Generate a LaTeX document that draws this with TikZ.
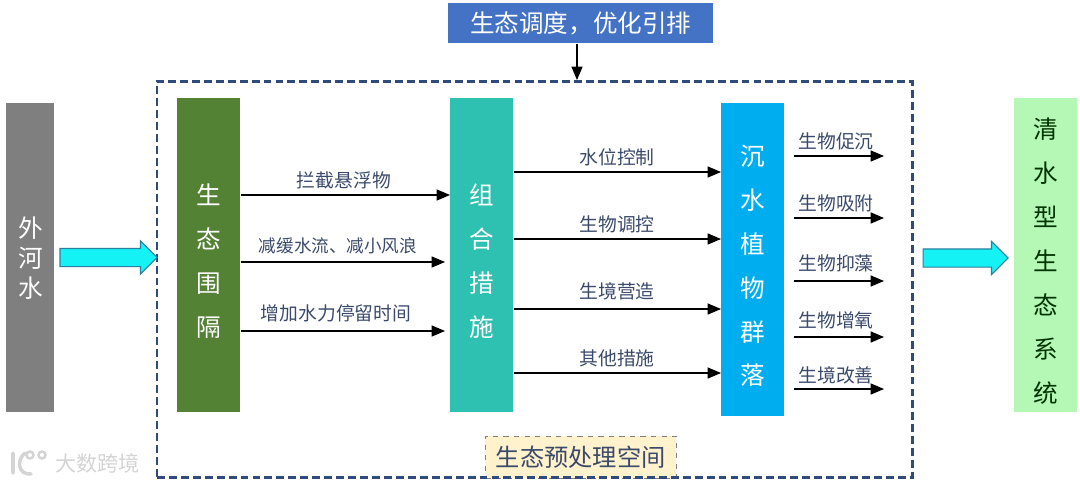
\documentclass[tikz,border=0pt]{standalone}
\usepackage{fontspec}
\setmainfont{Noto Sans CJK SC}
\usetikzlibrary{arrows}
\usetikzlibrary{shapes.arrows}
\definecolor{framecol}{HTML}{2F4B7C}
\definecolor{labelcol}{HTML}{3B4A6B}
\definecolor{schedcol}{HTML}{4472C4}
\definecolor{greycol}{HTML}{7F7F7F}
\definecolor{weircol}{HTML}{548235}
\definecolor{combcol}{HTML}{2EC0B0}
\definecolor{plantcol}{HTML}{00ADEF}
\definecolor{cleancol}{HTML}{B5F7B5}
\definecolor{tagcol}{HTML}{FFF2CC}
\definecolor{markcol}{HTML}{D4D4D4}
\definecolor{edgecol}{HTML}{2A7F9E}
\definecolor{arrowcol}{HTML}{14F2F6}
\newcommand{\topgap}{\rule{0pt}{18.5pt}}
\begin{document}
\begin{tikzpicture}[line cap=butt,line join=miter,>=triangle 45,x=1cm,y=1cm,
    column/.style={anchor=north west, inner sep=0pt, align=center, minimum width=1.26cm, text=white, font=\fontsize{14}{25}\selectfont},
    lbl/.style={inner sep=0pt, text=labelcol, font=\fontsize{10.7}{12}\selectfont},
    flow/.style={->, line width=0.75pt},
    bigarrow/.style={single arrow, draw=edgecol, fill=arrowcol, line width=0.6pt, inner sep=0.17cm, minimum width=0.66cm, single arrow head extend=0.15cm, single arrow head indent=0pt}]
    \useasboundingbox (0,0) rectangle (21.6,9.66);

    % watermark
    \draw [markcol, line width=1.4pt] (0.6,0.56) circle (0.07);
    \draw [markcol, line width=1.4pt] (0.84,0.56) circle (0.07);
    \draw [markcol, line width=2pt, line cap=round] (0.26,0.6) -- (0.26,0.2) (0.5,0.6) .. controls (0.32,0.46) and (0.36,0.16) .. (0.62,0.18);
    \node[inner sep=0pt, text=markcol, font=\fontsize{12}{13}\selectfont] (mark) at (1.95,0.4) {大数跨境};

    % schedule box
    \node[anchor=north west, inner sep=0pt, fill=schedcol, text=white, minimum width=5.3cm, minimum height=0.8cm, font=\fontsize{14}{16}\selectfont] (sched) at (8.96,9.6) {生态调度，优化引排};

    % columns
    \node[column, fill=greycol, minimum width=0.96cm, minimum height=6.18cm, font=\fontsize{14}{17}\selectfont] (river) at (0.12,7.6) {外\\河\\水};
    \node[column, fill=weircol, minimum height=6.28cm] (weir) at (3.54,7.7) {\topgap 生\\态\\围\\隔};
    \node[column, fill=combcol, minimum height=6.28cm] (comb) at (9,7.7) {\topgap 组\\合\\措\\施};
    \node[column, fill=plantcol, minimum height=6.26cm] (plant) at (14.42,7.6) {\topgap 沉\\水\\植\\物\\群\\落};
    \node[column, fill=cleancol, minimum height=6.28cm, text=black!80!green] (clean) at (20.28,7.7) {\topgap 清\\水\\型\\生\\态\\系\\统};

    % tag and frame
    \node[anchor=north west, inner sep=0pt, fill=tagcol, draw=gray, dashed, minimum width=3.82cm, minimum height=0.84cm, text=labelcol, font=\fontsize{13.8}{15}\selectfont] (tag) at (9.7,0.94) {生态预处理空间};
    \node[anchor=north west, inner sep=0pt, draw=framecol, line width=1.6pt, dash pattern=on 4.5pt off 2.3pt, minimum width=15.11cm, minimum height=7.92cm] (frame) at (3.11,8.06) {};

    % big arrows
    \node[bigarrow, minimum height=1.94cm] (inflow) at (2.08,4.51) {};
    \node[bigarrow, minimum height=1.7cm] (outflow) at (19.22,4.5) {};

    \draw [flow] (11.54,0 |- sched.south) -- (11.54,0 |- frame.north);

    % weir to combination
    \coordinate (endB) at (8.9,4.42);
    \coordinate (endC) at (8.9,3.04);
    \node[lbl] (interc) at (6.88,6.06) {拦截悬浮物};
    \node[lbl, font=\fontsize{10}{12}\selectfont] (slow) at (6.76,4.74) {减缓水流、减小风浪};
    \node[lbl] (stay) at (6.72,3.4) {增加水力停留时间};
    \draw [flow] (weir.east |- 0,5.76) -- (comb.west |- 0,5.76);
    \draw [flow] (weir.east |- endB) -- (endB);
    \draw [flow] (weir.east |- endC) -- (endC);

    % combination to plants
    \node[lbl] (level) at (12.34,6.52) {水位控制};
    \node[lbl] (regul) at (12.34,5.18) {生物调控};
    \node[lbl] (habit) at (12.34,3.84) {生境营造};
    \node[lbl] (other) at (12.34,2.5) {其他措施};
    \draw [flow] (comb.east |- 0,6.22) -- (plant.west |- 0,6.22);
    \draw [flow] (comb.east |- 0,4.88) -- (plant.west |- 0,4.88);
    \draw [flow] (comb.east |- 0,3.48) -- (plant.west |- 0,3.48);
    \draw [flow] (comb.east |- 0,2.2) -- (plant.west |- 0,2.2);

    % effects
    \node[lbl] (settle) at (16.72,6.84) {生物促沉};
    \node[lbl] (adsorb) at (16.72,5.6) {生物吸附};
    \node[lbl] (algae) at (16.72,4.4) {生物抑藻};
    \node[lbl] (oxygen) at (16.72,3.26) {生物增氧};
    \node[lbl] (improve) at (16.72,2.16) {生境改善};
    \coordinate (effA) at (15.88,6.54);
    \coordinate (effB) at (15.88,5.3);
    \coordinate (effC) at (15.88,4.04);
    \coordinate (effD) at (15.88,2.92);
    \coordinate (effE) at (15.88,1.88);
    \draw [flow] (effA) -- ++(1.8,0);
    \draw [flow] (effB) -- ++(1.8,0);
    \draw [flow] (effC) -- ++(1.8,0);
    \draw [flow] (effD) -- ++(1.8,0);
    \draw [flow] (effE) -- ++(1.8,0);
\end{tikzpicture}
\end{document}
